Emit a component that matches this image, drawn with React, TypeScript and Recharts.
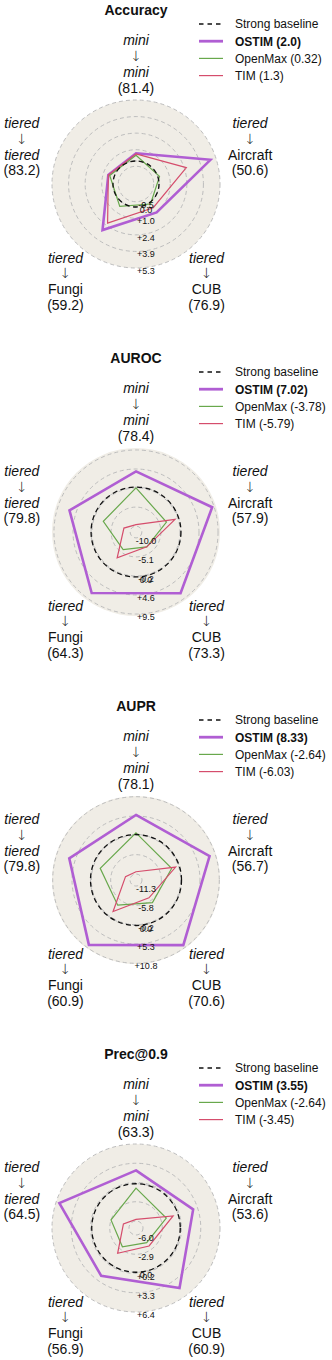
import React from 'react';
import { PolarAngleAxis, PolarGrid, PolarRadiusAxis, Radar, RadarChart } from 'recharts';

// geometry of one panel
const W = 332;
const PANEL_H = 348;
const CX = 136;
const CY = 184;
const R = 84;
const LABEL_R = 120;
const LINE_H = 15.7;
const FONT = '"Liberation Sans", Arial, Helvetica, sans-serif';

const PURPLE = '#b05ed3';
const GREEN = '#68a84c';
const RED = '#d54d6c';

const sources = ['mini', 'tiered', 'tiered', 'tiered', 'tiered'];
const targets = ['mini', 'Aircraft', 'CUB', 'Fungi', 'tiered'];
const italicNames = ['mini', 'tiered'];

// Accuracy
const accBaseline = [81.4, 50.6, 76.9, 59.2, 83.2];
const accOstim = [0.67, 4.8, 1.05, 2.95, 0.53];
const accOpenMax = [0.5, 0.15, 0.15, 0.4, 0.4];
const accTim = [0.62, 2.6, 0.55, 2.2, 0.53];
const accTicks = [-0.46, 0.98, 2.42, 3.86, 5.3];
const accTickLabels = ['-0.5', '+1.0', '+2.4', '+3.9', '+5.3'];
const accRange = [-1.51, 5.3];
const accMeans = ['2.0', '0.32', '1.3'];

// AUROC
const aurocBaseline = [78.4, 57.9, 73.3, 64.3, 79.8];
const aurocOstim = [4.0, 9.0, 7.9, 7.8, 6.4];
const aurocOpenMax = [-0.2, -3.3, -6.8, -5.9, -2.7];
const aurocTim = [-9.6, -1.0, -6.8, -3.3, -8.25];
const aurocTicks = [-10.0, -5.125, -0.25, 4.625, 9.5];
const aurocTickLabels = ['-10.0', '-5.1', '-0.2', '+4.6', '+9.5'];
const aurocRange = [-11.5, 9.5];
const aurocMeans = ['7.02', '-3.78', '-5.79'];

// AUPR
const auprBaseline = [78.1, 56.7, 70.6, 60.9, 79.8];
const auprOstim = [5.6, 9.1, 10.0, 9.9, 7.05];
const auprOpenMax = [0.45, -2.3, -5.0, -4.1, -2.25];
const auprTim = [-10.65, -1.1, -6.7, -1.85, -9.85];
const auprTicks = [-11.28, -5.76, -0.24, 5.28, 10.8];
const auprTickLabels = ['-11.3', '-5.8', '-0.2', '+5.3', '+10.8'];
const auprRange = [-12.9, 10.8];
const auprMeans = ['8.33', '-2.64', '-6.03'];

// Prec@0.9
const precBaseline = [63.3, 53.6, 60.9, 56.9, 64.5];
const precOstim = [2.15, 2.55, 4.8, 2.4, 5.85];
const precOpenMax = [-0.7, -2.0, -4.2, -3.4, -2.9];
const precTim = [-5.75, -0.85, -3.55, -2.1, -5.0];
const precTicks = [-6.0, -2.9, 0.2, 3.3, 6.4];
const precTickLabels = ['-6.0', '-2.9', '+0.2', '+3.3', '+6.4'];
const precRange = [-7.13, 6.4];
const precMeans = ['3.55', '-2.64', '-3.45'];

type PanelProps = {
  top: number;
  title: string;
  baseline: number[];
  ostim: number[];
  openmax: number[];
  tim: number[];
  ticks: number[];
  tickLabels: string[];
  range: number[];
  means: string[];
};

const Panel = (p: PanelProps) => {
  const data = targets.map((t, i) => ({
    target: t,
    ostim: p.ostim[i],
    openmax: p.openmax[i],
    tim: p.tim[i],
  }));

  const angleTick = (props: any) => {
    const { x, y, index } = props;
    const dx = x - CX;
    const dy = y - CY;
    const d = Math.hypot(dx, dy) || 1;
    const bx = CX + (dx / d) * LABEL_R;
    const by = CY + (dy / d) * LABEL_R;
    const lines = [
      { s: sources[index], it: true, arrow: false },
      { s: '\u2193', it: false, arrow: true },
      { s: targets[index], it: italicNames.includes(targets[index]), arrow: false },
      { s: `(${p.baseline[index].toFixed(1)})`, it: false, arrow: false },
    ];
    return (
      <text textAnchor="middle" fontSize={14} fontFamily={FONT} fill="#111">
        {lines.map((l, k) => (
          <tspan
            key={k}
            x={bx}
            y={by + (k - 1.5) * LINE_H + 5}
            fontStyle={l.it ? 'italic' : 'normal'}
            fontFamily={l.arrow ? '"DejaVu Sans", sans-serif' : FONT}
            fontWeight={l.arrow ? 200 : 'normal'}
          >
            {l.s}
          </tspan>
        ))}
      </text>
    );
  };

  const radiusTick = (props: any) => {
    const { x, y, payload } = props;
    const v = payload.value;
    const isBase = v === 0;
    const label = isBase ? '0.0' : p.tickLabels[p.ticks.indexOf(v)];
    const r = Math.hypot(x - CX, y - CY);
    return (
      <g>
        {isBase && (
          <circle cx={CX} cy={CY} r={r} fill="none" stroke="#111" strokeWidth={1.3} strokeDasharray="5 3.5" />
        )}
        <text x={x + 10} y={y + 6} textAnchor="middle" fontSize={9} fontFamily={FONT} fill="#111">
          {label}
        </text>
      </g>
    );
  };

  const legend = [
    { name: 'Strong baseline', color: '#111', width: 1.3, dash: '4.5 4', bold: false },
    { name: `OSTIM (${p.means[0]})`, color: PURPLE, width: 2.8, dash: undefined, bold: true },
    { name: `OpenMax (${p.means[1]})`, color: GREEN, width: 1.2, dash: undefined, bold: false },
    { name: `TIM (${p.means[2]})`, color: RED, width: 1.2, dash: undefined, bold: false },
  ];

  return (
    <div style={{ position: 'absolute', left: 0, top: p.top, width: W, height: PANEL_H }}>
      <div
        style={{
          position: 'absolute',
          left: CX - R,
          top: CY - R,
          width: 2 * R,
          height: 2 * R,
          borderRadius: '50%',
          background: '#f0ede6',
        }}
      />
      <div style={{ position: 'absolute', left: 0, top: 0 }}>
        <RadarChart
          width={W}
          height={PANEL_H}
          data={data}
          cx={CX}
          cy={CY}
          outerRadius={R}
          startAngle={90}
          endAngle={-270}
          margin={{ top: 0, right: 0, bottom: 0, left: 0 }}
        >
          <PolarGrid gridType="circle" radialLines={false} stroke="#bdbdbd" strokeDasharray="4 3" />
          <PolarAngleAxis dataKey="target" tick={angleTick} axisLine={false} tickLine={false} />
          <Radar
            dataKey="ostim"
            stroke={PURPLE}
            strokeWidth={2.6}
            fill="none"
            fillOpacity={0}
            dot={{ r: 3.9, fill: PURPLE, strokeWidth: 0 }}
            isAnimationActive={false}
          />
          <Radar
            dataKey="openmax"
            stroke={GREEN}
            strokeWidth={1.2}
            fill="none"
            fillOpacity={0}
            dot={{ r: 3.7, fill: GREEN, strokeWidth: 0 }}
            isAnimationActive={false}
          />
          <Radar
            dataKey="tim"
            stroke={RED}
            strokeWidth={1.2}
            fill="none"
            fillOpacity={0}
            dot={{ r: 3.7, fill: RED, strokeWidth: 0 }}
            isAnimationActive={false}
          />
          <PolarRadiusAxis
            type="number"
            domain={p.range}
            ticks={[...p.ticks, 0]}
            angle={-90}
            axisLine={false}
            tickLine={false}
            tick={radiusTick}
            allowDataOverflow
          />
        </RadarChart>
      </div>
      <svg width={W} height={90} style={{ position: 'absolute', left: 0, top: 0, pointerEvents: 'none' }}>
        <text x={CX} y={15} textAnchor="middle" fontSize={14} fontWeight="bold" fontFamily={FONT} fill="#111">
          {p.title}
        </text>
        {legend.map((l, i) => {
          const y = 24 + i * 17.2;
          return (
            <g key={l.name}>
              <line x1={199} x2={223} y1={y} y2={y} stroke={l.color} strokeWidth={l.width} strokeDasharray={l.dash} />
              <text x={235} y={y + 4.3} fontSize={12} fontFamily={FONT} fontWeight={l.bold ? 'bold' : 'normal'} fill="#111">
                {l.name}
              </text>
            </g>
          );
        })}
      </svg>
    </div>
  );
};

const App = () => (
  <div style={{ position: 'absolute', left: 0, top: 0, width: W, height: 1360, overflow: 'hidden', background: '#fff' }}>
    <Panel top={0} title="Accuracy" baseline={accBaseline} ostim={accOstim} openmax={accOpenMax} tim={accTim}
      ticks={accTicks} tickLabels={accTickLabels} range={accRange} means={accMeans} />
    <Panel top={PANEL_H} title="AUROC" baseline={aurocBaseline} ostim={aurocOstim} openmax={aurocOpenMax} tim={aurocTim}
      ticks={aurocTicks} tickLabels={aurocTickLabels} range={aurocRange} means={aurocMeans} />
    <Panel top={2 * PANEL_H} title="AUPR" baseline={auprBaseline} ostim={auprOstim} openmax={auprOpenMax} tim={auprTim}
      ticks={auprTicks} tickLabels={auprTickLabels} range={auprRange} means={auprMeans} />
    <Panel top={3 * PANEL_H} title="Prec@0.9" baseline={precBaseline} ostim={precOstim} openmax={precOpenMax} tim={precTim}
      ticks={precTicks} tickLabels={precTickLabels} range={precRange} means={precMeans} />
  </div>
);

export default App;
